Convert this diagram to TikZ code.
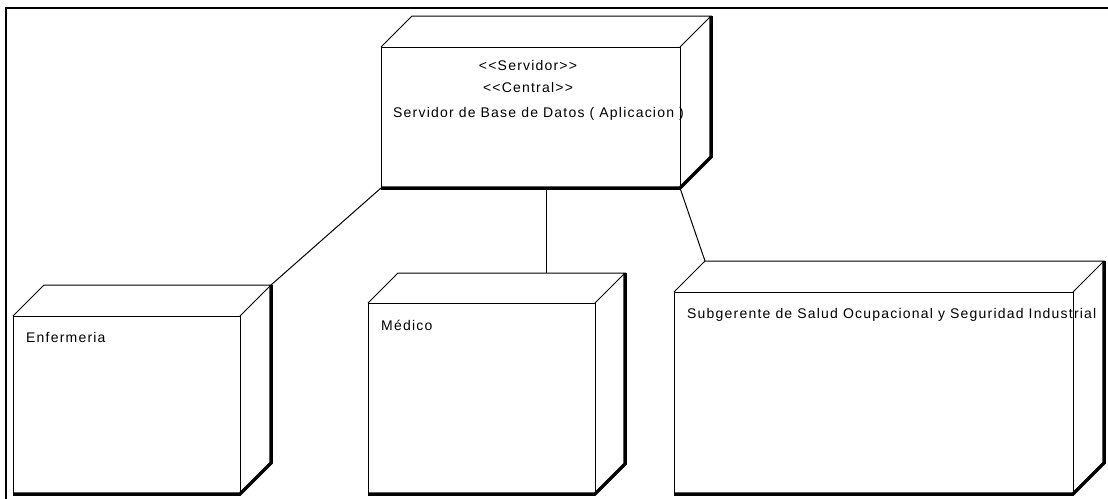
\documentclass[tikz,border=0pt]{standalone}
\usepackage{fontspec}
\usetikzlibrary{calc}
\newfontfamily\umlfont[LetterSpace=8.6]{Liberation Sans}

% 3D deployment node: name, x, y (front top-left), width, height, depth
\newcommand\deploynode[6]{%
  \node[face, minimum width=#4, minimum height=#5, anchor=north west] (#1) at (#2,#3) {};
  \coordinate (#1-bnw) at ($(#1.north west)+(#6,-#6)$);
  \coordinate (#1-bne) at ($(#1.north east)+(#6,-#6)$);
  \coordinate (#1-bse) at ($(#1.south east)+(#6,-#6)$);
  \draw[edge] (#1.north west) -- (#1-bnw) -- (#1-bne) -- (#1.north east);
  \draw[shadow] (#1-bne) -- (#1-bse) -- (#1.south east) -- (#1.south west);
}

\tikzset{
  face/.style={draw, line width=1pt, inner sep=0pt, outer sep=0pt, fill=white},
  edge/.style={line width=1pt},
  shadow/.style={line width=3.5pt, line join=miter},
  link/.style={line width=1pt},
  frameline/.style={line width=2pt},
  lbl/.style={inner sep=0pt, font=\umlfont\fontsize{14}{16}\selectfont},
}

\begin{document}
\begin{tikzpicture}[x=1pt, y=-1pt]
  \useasboundingbox (0,0) rectangle (1108,498);

  % outer frame
  \draw[frameline] (1115,8) -- (6,8) -- (6,505);

  % nodes
  \deploynode{srv}{381}{47}{299}{141}{31}
  \deploynode{enf}{13}{316}{227}{178}{31}
  \deploynode{med}{368}{303}{227}{191}{30}
  \deploynode{sub}{674}{292}{399}{202}{31}

  % communication links
  \coordinate (medtop) at (546,273);
  \draw[link] (srv.south west) -- (enf-bne);
  \draw[link] (medtop |- srv.south) -- (medtop);
  \draw[link] (srv.south east) -- (sub-bnw);

  % labels
  \node[lbl, anchor=base] (srvst1) at (528,70) {<<Servidor>>};
  \node[lbl, anchor=base] (srvst2) at (528,92) {<<Central>>};
  \node[lbl, anchor=base west] (srvname) at (393,117) {Servidor de Base de Datos ( Aplicacion )};
  \node[lbl, anchor=base west] (enfname) at (26,342) {Enfermeria};
  \node[lbl, anchor=base west] (medname) at (381,330) {Médico};
  \node[lbl, anchor=base west] (subname) at (687,318) {Subgerente de Salud Ocupacional y Seguridad Industrial};
\end{tikzpicture}
\end{document}
